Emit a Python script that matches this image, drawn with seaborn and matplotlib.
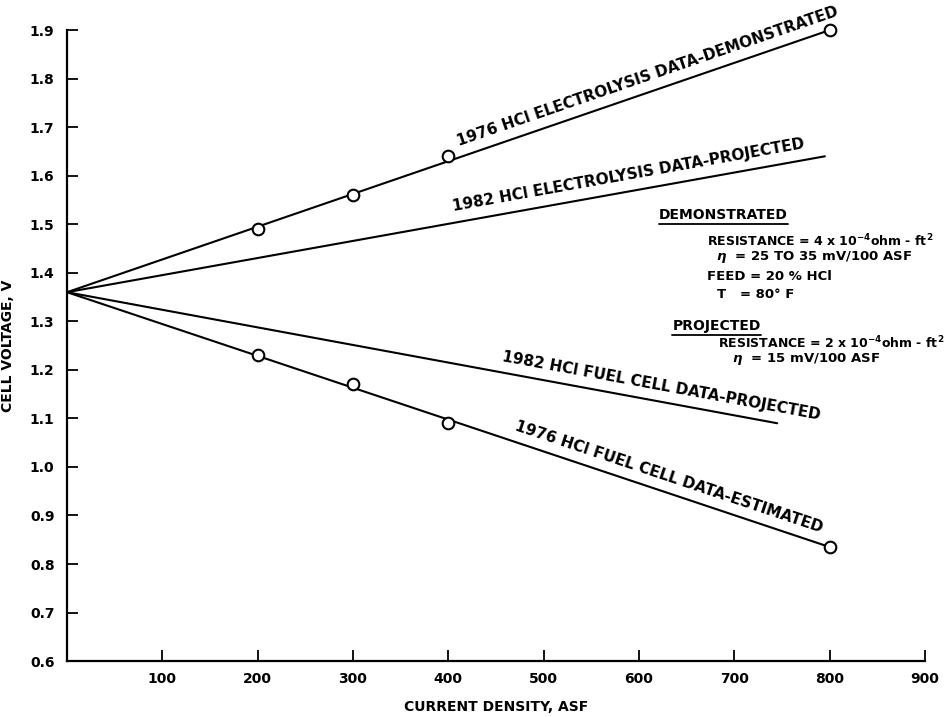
import numpy as np
import pandas as pd
import matplotlib
matplotlib.use("Agg")
import matplotlib.pyplot as plt
import seaborn as sns
from matplotlib.lines import Line2D

# measured points (open circles)
point_x = [200, 300, 400, 800]
elec_demo_v = [1.49, 1.56, 1.64, 1.90]
fuel_est_v = [1.23, 1.17, 1.09, 0.835]

# straight lines, all start at the open-circuit voltage
elec_demo_x = [0, 800]
elec_demo_line = [1.36, 1.90]
elec_proj_x = [0, 795]
elec_proj_line = [1.36, 1.64]
fuel_proj_x = [0, 745]
fuel_proj_line = [1.36, 1.09]
fuel_est_x = [0, 800]
fuel_est_line = [1.36, 0.835]

x_ticks = [100, 200, 300, 400, 500, 600, 700, 800, 900]
y_ticks = [0.6, 0.7, 0.8, 0.9, 1.0, 1.1, 1.2, 1.3, 1.4, 1.5, 1.6, 1.7, 1.8, 1.9]

line_labels = [
    ("1976 HCl ELECTROLYSIS DATA-DEMONSTRATED", elec_demo_x, elec_demo_line, 614),
    ("1982 HCl ELECTROLYSIS DATA-PROJECTED", elec_proj_x, elec_proj_line, 592),
    ("1982 HCl FUEL CELL DATA-PROJECTED", fuel_proj_x, fuel_proj_line, 620),
    ("1976 HCl FUEL CELL DATA-ESTIMATED", fuel_est_x, fuel_est_line, 626),
]

sns.set_style("ticks")
plt.rcParams["font.family"] = ["DejaVu Sans"]
plt.rcParams["font.weight"] = "bold"
plt.rcParams["text.color"] = "black"
plt.rcParams["axes.labelcolor"] = "black"

fig = plt.figure(figsize=(9.48, 7.17), dpi=100)
ax = fig.add_axes([0.0707, 0.078, 0.905, 0.88])

lines = pd.concat([
    pd.DataFrame({"x": elec_demo_x, "v": elec_demo_line, "s": "ed"}),
    pd.DataFrame({"x": elec_proj_x, "v": elec_proj_line, "s": "ep"}),
    pd.DataFrame({"x": fuel_proj_x, "v": fuel_proj_line, "s": "fp"}),
    pd.DataFrame({"x": fuel_est_x, "v": fuel_est_line, "s": "fe"}),
])
sns.lineplot(data=lines, x="x", y="v", units="s", estimator=None,
             color="black", linewidth=1.5, ax=ax, clip_on=False)

pts = pd.DataFrame({"x": point_x * 2, "v": elec_demo_v + fuel_est_v})
sns.scatterplot(data=pts, x="x", y="v", marker="o", s=70, facecolor="white",
                edgecolor="black", linewidth=1.5, ax=ax, clip_on=False, zorder=5)

ax.set_xlim(0, 900)
ax.set_ylim(0.6, 1.9)
ax.set_xticks(x_ticks)
ax.set_yticks(y_ticks)
ax.set_yticklabels([f"{v:.1f}" for v in y_ticks])
ax.tick_params(direction="in", length=8, width=1.3, labelsize=10, colors="black")
ax.tick_params(axis="x", pad=8)
ax.tick_params(axis="y", pad=9)
sns.despine(ax=ax)
for sp in ["left", "bottom"]:
    ax.spines[sp].set_linewidth(1.6)
    ax.spines[sp].set_color("black")

ax.set_xlabel("CURRENT DENSITY, ASF", fontsize=10, fontweight="bold")
ax.set_ylabel("CELL VOLTAGE, V", fontsize=10, fontweight="bold")
ax.xaxis.set_label_coords(0.5, -0.062)
ax.yaxis.set_label_coords(-0.061, 0.5)

# labels along the lines
for text, xs, vs, xc in line_labels:
    slope = (vs[1] - vs[0]) / (xs[1] - xs[0])
    yc = vs[0] + slope * (xc - xs[0])
    p0 = ax.transData.transform((xs[0], vs[0]))
    p1 = ax.transData.transform((xs[1], vs[1]))
    ang = np.degrees(np.arctan2(p1[1] - p0[1], p1[0] - p0[0]))
    g = 6
    ax.annotate(text, xy=(xc, yc),
                xytext=(-np.sin(np.radians(ang)) * g, np.cos(np.radians(ang)) * g),
                textcoords="offset points", rotation=ang, rotation_mode="anchor",
                ha="center", va="bottom", fontsize=11, fontweight="bold")

# parameter block on the right
block = [
    ("DEMONSTRATED", 621, 1.52, True, 10),
    (r"RESISTANCE = 4 x 10$^{-4}$ohm - ft$^{2}$", 671, 1.465, False, 9),
    (r"$\eta$  = 25 TO 35 mV/100 ASF", 681, 1.432, False, 9.5),
    ("FEED = 20 % HCl", 671, 1.393, False, 9.5),
    ("T   = 80° F", 682, 1.356, False, 9.5),
    ("PROJECTED", 635, 1.29, True, 10),
    (r"RESISTANCE = 2 x 10$^{-4}$ohm - ft$^{2}$", 683, 1.255, False, 9),
    (r"$\eta$  = 15 mV/100 ASF", 698, 1.222, False, 9.5),
]
under = []
for text, x, y, ul, fs in block:
    t = ax.text(x, y, text, ha="left", va="center", fontsize=fs,
                fontweight="bold", clip_on=False)
    if ul:
        under.append(t)

fig.canvas.draw()
inv = fig.transFigure.inverted()
for t in under:
    bb = t.get_window_extent().transformed(inv)
    fig.add_artist(Line2D([bb.x0, bb.x1], [bb.y0 - 0.003, bb.y0 - 0.003],
                          color="black", linewidth=1.3))

fig.savefig("out.png", dpi=100, facecolor="white")
